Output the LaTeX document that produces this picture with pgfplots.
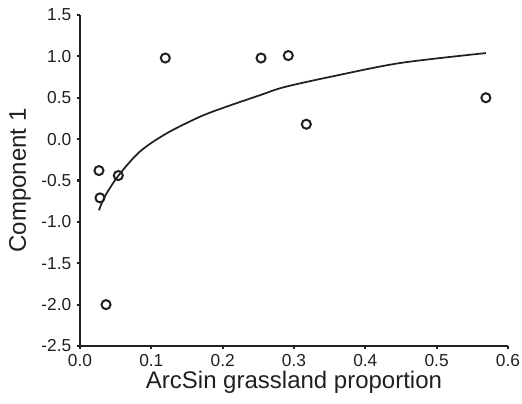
\documentclass[border=0pt]{standalone}
\usepackage{fontspec}
\setmainfont{Liberation Sans}
\usepackage{pgfplots}
\pgfplotsset{compat=1.18}
\definecolor{INK}{HTML}{231F20}

\begin{document}
\begin{tikzpicture}
\begin{axis}[
  scale only axis,
  width=321pt, height=248.25pt,
  xmin=0, xmax=0.6,
  ymin=-2.5, ymax=1.5,
  axis x line=bottom, axis y line=left,
  axis line style={draw=INK, line width=1.6pt, -},
  xtick={0,0.1,0.2,0.3,0.4,0.5,0.6},
  ytick={-2.5,-2,-1.5,-1,-0.5,0,0.5,1,1.5},
  tick align=outside,
  major tick length=2pt,
  tick style={draw=INK, line width=1.6pt},
  /pgf/number format/assume math mode=true,
  /pgf/number format/.cd, fixed, fixed zerofill, precision=1, /pgfplots/.cd,
  ticklabel style={font=\fontsize{13}{15}\selectfont, text=INK},
  xticklabel style={yshift=-1pt},
  yticklabel style={xshift=-1pt},
  xlabel={ArcSin grassland proportion},
  ylabel={Component 1},
  label style={font=\fontsize{18}{21}\selectfont, text=INK},
  xlabel style={at={(axis description cs:0.5,-0.11)}, anchor=center},
  ylabel style={at={(axis description cs:-0.14,0.5)}, anchor=center},
  clip=false,
]
% fitted curve
\addplot[INK, line width=1.3pt, smooth] coordinates {
(0.0266,-0.86) (0.035,-0.69) (0.054,-0.44) (0.084,-0.15) (0.1215,0.07)
(0.168,0.27) (0.203,0.385) (0.252,0.53) (0.287,0.63) (0.355,0.76)
(0.449,0.92) (0.569,1.04)
};
% observations
\addplot[only marks, mark=o, mark size=3.4pt, mark options={draw=INK, line width=1.5pt}] coordinates {
(0.0266,-0.38) (0.028,-0.71) (0.0537,-0.44) (0.1196,0.98) (0.0365,-2.0)
(0.2538,0.98) (0.292,1.01) (0.3173,0.18) (0.569,0.50)
};
\end{axis}
\pgfresetboundingbox
\path[use as bounding box] (-60pt,-43.5pt) rectangle (331.5pt,259.5pt);
\end{tikzpicture}
\end{document}
